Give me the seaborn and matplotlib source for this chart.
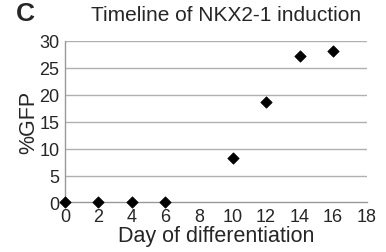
import numpy as np
import pandas as pd
import seaborn as sns
import matplotlib.pyplot as plt

days = [0, 2, 4, 6, 10, 12, 14, 16]
gfp = [0.0, 0.0, 0.0, 0.0, 8.2, 18.6, 27.3, 28.1]
x_ticks = list(range(0, 20, 2))
y_ticks = list(range(0, 35, 5))

sns.set_style("white")
plt.rcParams["font.family"] = ["Liberation Sans", "DejaVu Sans"]

df = pd.DataFrame({"day": days, "gfp": gfp})

fig = plt.figure(figsize=(3.86, 2.53), dpi=100)
ax = fig.add_axes([0.168, 0.196, 0.782, 0.638])
ax.set_axisbelow(True)
for y in y_ticks[1:]:
    ax.axhline(y, color="#b0b0b0", lw=1, zorder=0)
sns.scatterplot(data=df, x="day", y="gfp", marker="D", s=34, color="black",
                edgecolor="black", ax=ax, zorder=3, clip_on=False)

ax.set_xlim(0, 18)
ax.set_ylim(0, 30)
ax.set_xticks(x_ticks)
ax.set_yticks(y_ticks)
ax.tick_params(axis="both", labelsize=13, length=3, width=1, color="#999999", pad=1)
ax.tick_params(axis="y", length=0, pad=4)
for s in ["top", "right"]:
    ax.spines[s].set_visible(False)
for s in ["left", "bottom"]:
    ax.spines[s].set_color("#999999")
    ax.spines[s].set_linewidth(1)
ax.set_xlabel("Day of differentiation", fontsize=15.5, labelpad=0)
ax.set_ylabel("%GFP", fontsize=15.5, labelpad=0)

fig.text(0.585, 0.94, "Timeline of NKX2-1 induction", ha="center", va="center", fontsize=15)
fig.text(0.04, 0.945, "C", ha="left", va="center", fontsize=19, fontweight="bold")

fig.savefig("out.png", dpi=100)
